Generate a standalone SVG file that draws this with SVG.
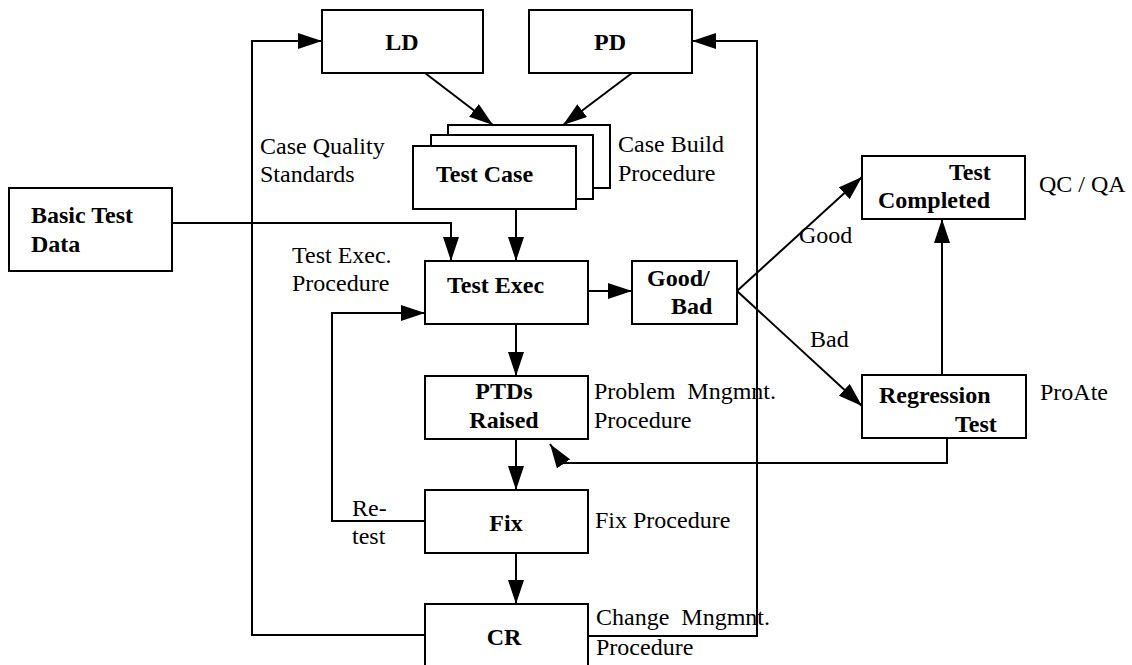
<svg xmlns="http://www.w3.org/2000/svg" width="1132" height="665" viewBox="0 0 1132 665">
<style>
.box{fill:#fff;stroke:#000;stroke-width:2}
.ar{fill:none;stroke:#000;stroke-width:2;marker-end:url(#ah)}
</style>
<defs>
<marker id="ah" markerUnits="userSpaceOnUse" markerWidth="24" markerHeight="16" refX="24" refY="8" orient="auto">
<path d="M0,0 L24,8 L0,16 z" fill="#000"/>
</marker>
</defs>
<rect width="1132" height="665" fill="#fff"/>
<g id="connectors">
<polyline class="ar" points="425,635 252,635 252,41 322,41"/>
<polyline class="ar" points="585,636 757,636 757,41 692,41"/>
<line class="ar" x1="425" y1="73" x2="493" y2="125"/>
<line class="ar" x1="632" y1="73" x2="563" y2="125"/>
<polyline class="ar" points="172,223 451,223 451,261"/>
<line class="ar" x1="516" y1="209" x2="516" y2="261"/>
<line class="ar" x1="586" y1="291" x2="632" y2="291"/>
<line class="ar" x1="737" y1="291" x2="862" y2="177"/>
<line class="ar" x1="737" y1="291" x2="862" y2="406"/>
<line class="ar" x1="942" y1="375" x2="942" y2="219"/>
<polyline class="ar" points="947,438 947,463 563,463 550,444"/>
<line class="ar" x1="516" y1="324" x2="516" y2="376"/>
<line class="ar" x1="516" y1="439" x2="516" y2="490"/>
<polyline class="ar" points="425,521 332,521 332,313 425,313"/>
<line class="ar" x1="516" y1="553" x2="516" y2="604"/>
</g>
<g font-family="Liberation Serif, Tinos, Times New Roman, DejaVu Serif, serif" font-size="24" fill="#000">
<g font-weight="bold">
<g id="ld"><rect class="box" x="322" y="10" width="161" height="63"/><text text-anchor="middle" x="402" y="50">LD</text></g>
<g id="pd"><rect class="box" x="529" y="10" width="163" height="63"/><text text-anchor="middle" x="610" y="50">PD</text></g>
<g id="testcase">
<rect class="box" x="448" y="125" width="162" height="63"/>
<rect class="box" x="431" y="135" width="162" height="64"/>
<rect class="box" x="413" y="146" width="163" height="63"/>
<text x="436" y="182">Test Case</text>
</g>
<g id="basic"><rect class="box" x="9" y="188" width="163" height="83"/><text x="31" y="223">Basic Test</text><text x="31" y="252">Data</text></g>
<g id="testexec"><rect class="box" x="425" y="261" width="163" height="63"/><text x="447" y="293">Test Exec</text></g>
<g id="goodbad"><rect class="box" x="632" y="261" width="105" height="63"/><text x="647" y="286">Good/</text><text x="671" y="314">Bad</text></g>
<g id="completed"><rect class="box" x="862" y="156" width="163" height="63"/><text x="949" y="180">Test</text><text x="878" y="208">Completed</text></g>
<g id="regression"><rect class="box" x="862" y="375" width="164" height="63"/><text x="879" y="403">Regression</text><text x="955" y="432">Test</text></g>
<g id="ptds"><rect class="box" x="425" y="376" width="163" height="63"/><text text-anchor="middle" x="504" y="399">PTDs</text><text text-anchor="middle" x="504" y="428">Raised</text></g>
<g id="fix"><rect class="box" x="425" y="490" width="163" height="63"/><text text-anchor="middle" x="506" y="531">Fix</text></g>
<g id="cr"><rect class="box" x="425" y="604" width="163" height="70"/><text text-anchor="middle" x="504" y="645">CR</text></g>
</g>
<g id="labels">
<text x="260" y="154">Case Quality</text>
<text x="260" y="182">Standards</text>
<text x="618" y="152">Case Build</text>
<text x="618" y="181">Procedure</text>
<text x="292" y="263">Test Exec.</text>
<text x="292" y="291">Procedure</text>
<text x="1039" y="192">QC / QA</text>
<text x="799" y="243">Good</text>
<text x="810" y="347">Bad</text>
<text x="1040" y="400">ProAte</text>
<text x="594" y="399" xml:space="preserve">Problem  Mngmnt.</text>
<text x="594" y="428">Procedure</text>
<text x="595" y="528">Fix Procedure</text>
<text x="352" y="516">Re-</text>
<text x="352" y="544">test</text>
<text x="596" y="625" xml:space="preserve">Change  Mngmnt.</text>
<text x="596" y="655">Procedure</text>
</g>
</g>
</svg>
